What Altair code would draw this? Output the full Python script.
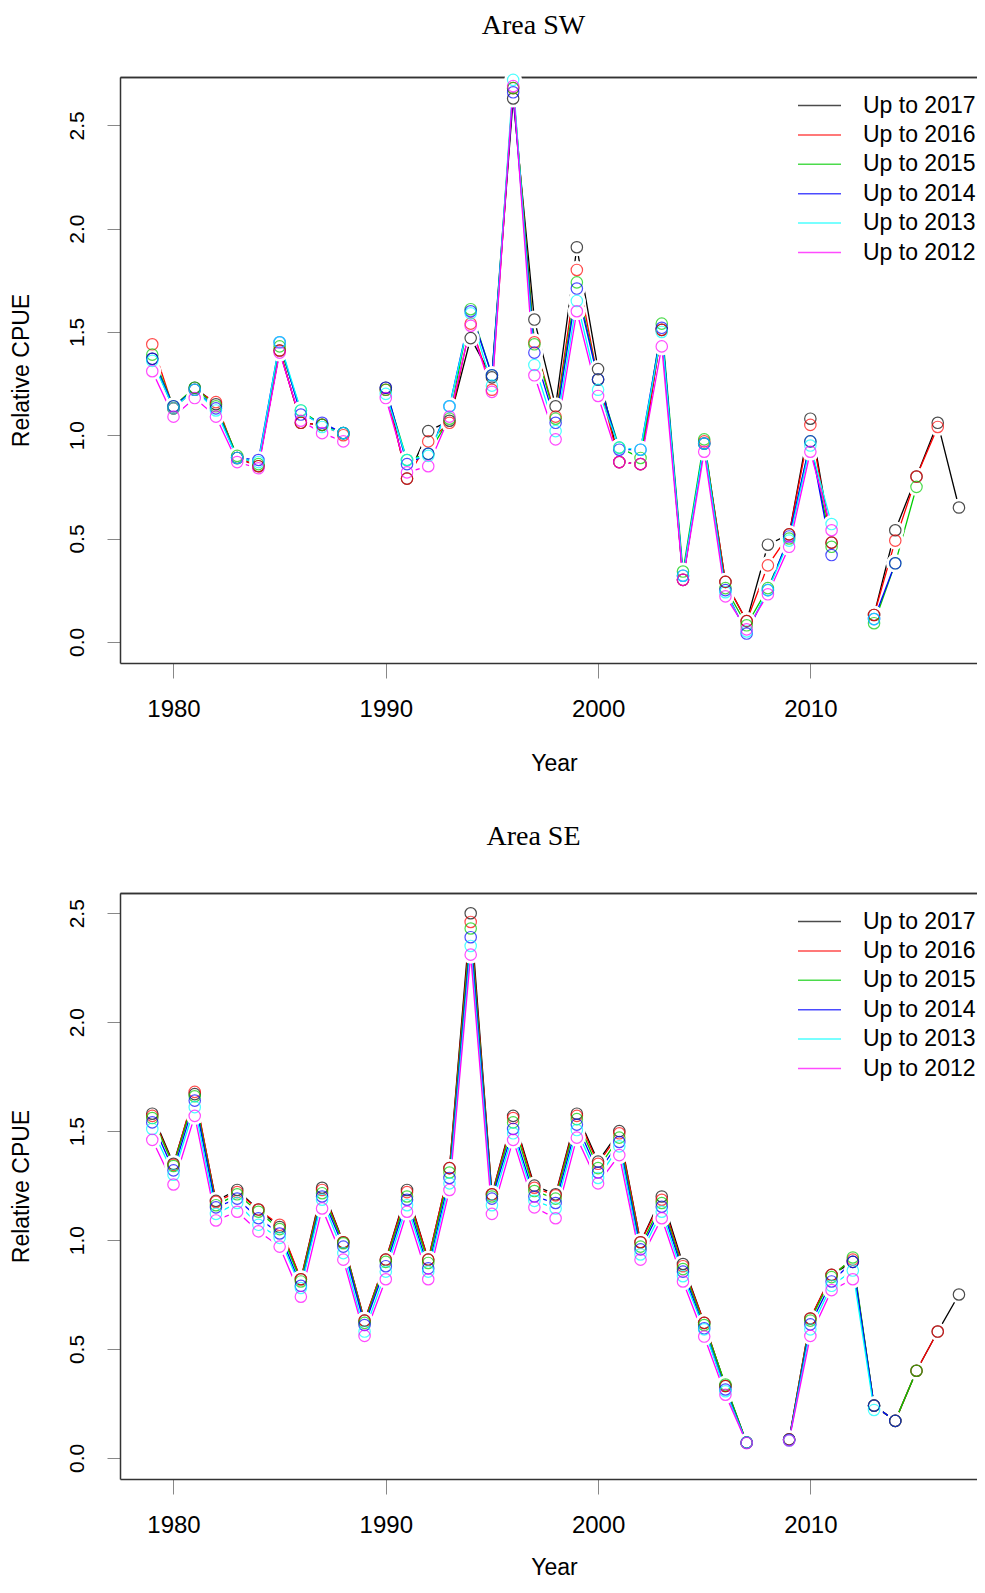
import altair as alt
import pandas as pd

N = None
years = list(range(1979, 2018))
series_names = ["Up to 2017", "Up to 2016", "Up to 2015", "Up to 2014", "Up to 2013", "Up to 2012"]
series_colors = ["#000000", "#FF0000", "#00CD00", "#0000FF", "#00FFFF", "#FF00FF"]
x_ticks = [1980, 1990, 2000, 2010]
y_ticks = [0.0, 0.5, 1.0, 1.5, 2.0, 2.5]

# ---- Area SW (1979..2017) ----
sw_2017 = [1.37, 1.13, 1.23, 1.15, 0.89, 0.85, 1.41, 1.06, 1.05, 1.01, N, 1.23, 0.79, 1.02, 1.07, 1.47, 1.28, 2.63, 1.56, 1.14,
           1.91, 1.32, 0.87, 0.86, 1.51, 0.30, 0.96, 0.29, 0.10, 0.47, 0.52, 1.08, 0.48, N, 0.13, 0.54, 0.80, 1.06, 0.65]
sw_2016 = [1.44, 1.13, 1.22, 1.16, 0.89, 0.85, 1.41, 1.06, 1.05, 1.00, N, 1.22, 0.79, 0.97, 1.06, 1.54, 1.22, 2.68, 1.45, 1.09,
           1.80, 1.27, 0.87, 0.86, 1.51, 0.30, 0.97, 0.29, 0.10, 0.37, 0.52, 1.05, 0.48, N, 0.13, 0.49, 0.80, 1.04, N]
sw_2015 = [1.39, 1.14, 1.23, 1.14, 0.90, 0.86, 1.43, 1.12, 1.05, 1.01, N, 1.22, 0.88, 0.91, 1.08, 1.61, 1.29, 2.68, 1.44, 1.08,
           1.74, 1.27, 0.94, 0.89, 1.54, 0.34, 0.98, 0.26, 0.08, 0.26, 0.50, 0.97, 0.46, N, 0.09, 0.38, 0.75, N, N]
sw_2014 = [1.37, 1.14, 1.22, 1.13, 0.89, 0.88, 1.45, 1.10, 1.06, 1.01, N, 1.23, 0.86, 0.91, 1.14, 1.60, 1.29, 2.66, 1.40, 1.06,
           1.71, 1.27, 0.93, 0.93, 1.52, 0.32, 0.96, 0.25, 0.04, 0.25, 0.51, 0.97, 0.42, N, 0.11, 0.38, N, N, N]
sw_2013 = [1.36, 1.13, 1.22, 1.12, 0.89, 0.87, 1.45, 1.12, 1.04, 1.01, N, 1.20, 0.88, 0.90, 1.14, 1.59, 1.24, 2.72, 1.34, 1.02,
           1.65, 1.22, 0.94, 0.93, 1.50, 0.32, 0.96, 0.24, 0.05, 0.25, 0.49, 0.95, 0.57, N, 0.11, N, N, N, N]
sw_2012 = [1.31, 1.09, 1.18, 1.09, 0.87, 0.84, 1.40, 1.07, 1.01, 0.97, N, 1.18, 0.82, 0.85, 1.09, 1.53, 1.21, 2.69, 1.29, 0.98,
           1.60, 1.19, 0.87, 0.86, 1.43, 0.30, 0.92, 0.22, 0.06, 0.23, 0.46, 0.92, 0.54, N, N, N, N, N, N]

# ---- Area SE (1979..2017) ----
se_2017 = [1.58, 1.35, 1.67, 1.18, 1.23, 1.14, 1.06, 0.82, 1.24, 0.99, 0.63, 0.91, 1.23, 0.91, 1.33, 2.50, 1.21, 1.57, 1.25, 1.21,
           1.58, 1.36, 1.50, 0.99, 1.20, 0.89, 0.62, 0.33, 0.07, N, 0.085, 0.64, 0.84, 0.90, 0.24, 0.17, 0.40, 0.58, 0.75]
se_2016 = [1.57, 1.345, 1.68, 1.175, 1.22, 1.14, 1.07, 0.82, 1.23, 0.99, 0.63, 0.91, 1.22, 0.91, 1.33, 2.46, 1.21, 1.56, 1.24, 1.205,
           1.57, 1.35, 1.49, 0.99, 1.185, 0.88, 0.62, 0.33, 0.07, N, 0.085, 0.64, 0.84, 0.91, 0.24, 0.17, 0.40, 0.58, N]
se_2015 = [1.56, 1.34, 1.66, 1.16, 1.21, 1.13, 1.05, 0.81, 1.215, 0.985, 0.62, 0.90, 1.20, 0.895, 1.31, 2.43, 1.20, 1.54, 1.225, 1.19,
           1.555, 1.33, 1.47, 0.97, 1.17, 0.867, 0.61, 0.337, 0.07, N, 0.083, 0.63, 0.83, 0.92, 0.24, 0.17, 0.40, N, N]
se_2014 = [1.54, 1.32, 1.64, 1.15, 1.19, 1.10, 1.03, 0.79, 1.20, 0.97, 0.61, 0.88, 1.185, 0.87, 1.285, 2.39, 1.19, 1.51, 1.20, 1.17,
           1.53, 1.31, 1.45, 0.957, 1.153, 0.855, 0.595, 0.314, 0.07, N, 0.083, 0.613, 0.81, 0.90, 0.24, 0.17, N, N, N]
se_2013 = [1.51, 1.30, 1.61, 1.12, 1.17, 1.07, 1.01, 0.78, 1.185, 0.94, 0.58, 0.855, 1.16, 0.855, 1.26, 2.35, 1.16, 1.49, 1.18, 1.145,
           1.505, 1.285, 1.43, 0.934, 1.13, 0.834, 0.59, 0.306, 0.07, N, 0.08, 0.59, 0.79, 0.86, 0.22, N, N, N, N]
se_2012 = [1.46, 1.255, 1.57, 1.09, 1.13, 1.04, 0.97, 0.74, 1.145, 0.91, 0.56, 0.82, 1.13, 0.82, 1.23, 2.31, 1.12, 1.46, 1.15, 1.10,
           1.47, 1.26, 1.39, 0.91, 1.10, 0.81, 0.557, 0.29, 0.068, N, 0.08, 0.56, 0.77, 0.82, N, N, N, N, N]


def make_df(series_lists):
    rows = []
    for name, vals in zip(series_names, series_lists):
        seg = 0
        prev = False
        for yr, v in zip(years, vals):
            if v is None:
                if prev:
                    seg += 1
                prev = False
                continue
            rows.append({"year": yr, "value": v, "series": name, "seg": f"{name}-{seg}"})
            prev = True
    return pd.DataFrame(rows)


sw_df = make_df([sw_2017, sw_2016, sw_2015, sw_2014, sw_2013, sw_2012])
se_df = make_df([se_2017, se_2016, se_2015, se_2014, se_2013, se_2012])

W = 857
H = 586
X_DOMAIN = [1977.48, 2017.85]


def panel(df, title, ydom, x_title_pad, title_offset):
    legend = alt.Legend(
        title=None, orient="none", legendX=677, legendY=17, symbolType="stroke",
        symbolSize=1849, symbolStrokeWidth=1.5, labelFontSize=23, labelFont="Liberation Sans",
        labelOffset=21, clipHeight=23, rowPadding=5.4, padding=0, labelColor="black",
    )
    color = alt.Color("series:N", scale=alt.Scale(domain=series_names, range=series_colors), legend=legend)
    xscale = alt.Scale(domain=X_DOMAIN, nice=False, zero=False)
    y = alt.Y(
        "value:Q",
        scale=alt.Scale(domain=ydom, nice=False, zero=False),
        axis=alt.Axis(values=y_ticks, format=".1f", labelAngle=270, labelFontSize=21, tickSize=13,
                      labelPadding=20, minExtent=58, maxExtent=58, title="Relative CPUE",
                      titleFontSize=23, titlePadding=29, grid=False),
    )
    x_bottom = alt.X(
        "year:Q", scale=xscale,
        axis=alt.Axis(orient="bottom", values=x_ticks, format="d", labelFontSize=24, tickSize=15,
                      labelPadding=19, minExtent=58, maxExtent=58, title="Year", titleFontSize=23,
                      titlePadding=x_title_pad, titleX=434, grid=False, labelFlush=False),
    )
    x_top = alt.X(
        "year:Q", scale=xscale,
        axis=alt.Axis(orient="top", labels=False, ticks=False, title=None, grid=False, domain=True,
                      minExtent=0, maxExtent=0),
    )
    lines = alt.Chart(df).mark_line(strokeWidth=1.3).encode(
        x=x_bottom, y=y, color=color, detail="seg:N"
    )
    # white disks behind the open circles leave the gap around each point (R type = "b")
    gaps = alt.Chart(df).mark_point(shape="circle", filled=True, color="white", opacity=1,
                                    size=330, strokeWidth=0).encode(x=x_top, y=y)
    points = alt.Chart(df).mark_point(shape="circle", filled=False, size=130, strokeWidth=1.2).encode(
        x=x_top, y=y, color=color
    )
    return alt.layer(lines, gaps, points).properties(
        width=W, height=H,
        title=alt.TitleParams(text=title, font="Liberation Serif", fontSize=28, fontWeight="normal",
                              anchor="middle", frame="group", baseline="bottom", offset=title_offset,
                              dx=-15, color="black"),
    )


top = panel(sw_df, "Area SW", [-0.1026, 2.734], 31, 3)
bottom = panel(se_df, "Area SE", [-0.0968, 2.593], 19, 14)

chart = (
    alt.vconcat(top, bottom, spacing=48)
    .resolve_scale(x="independent", y="independent", color="independent")
    .resolve_legend(color="independent")
    .properties(padding={"left": 2, "top": 3, "right": 0, "bottom": 0}, background="white")
    .configure_view(strokeWidth=0)
    .configure_axis(grid=False, domainColor="#333333", domainWidth=1.5, tickColor="#888888",
                    labelColor="black", titleColor="black", labelFont="Liberation Sans",
                    titleFont="Liberation Sans", titleFontWeight="normal", zindex=1)
)

chart.save("out.html", embed_options={"renderer": "svg", "actions": False})
